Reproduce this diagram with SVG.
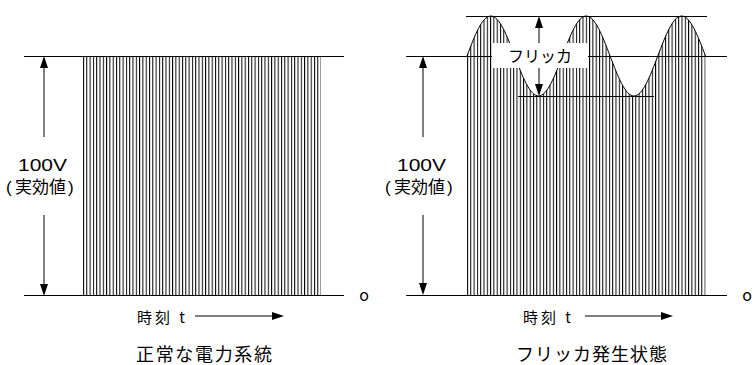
<svg xmlns="http://www.w3.org/2000/svg" width="756" height="365" viewBox="0 0 756 365">
<style>
.ln{stroke:#000;stroke-width:1;fill:none}
.t{font-family:"Noto Sans CJK JP","Noto Sans",sans-serif;fill:#000}
.v{font-family:"Liberation Sans","Noto Sans CJK JP",sans-serif;fill:#000}
.ah{fill:#000}
</style>
<defs>
<pattern id="hatch" patternUnits="userSpaceOnUse" x="83" y="0" width="3.3" height="20">
<rect x="0" y="0" width="1" height="20" fill="#000"/>
</pattern>
<pattern id="hatch2" patternUnits="userSpaceOnUse" x="467" y="0" width="3.3" height="20">
<rect x="0" y="0" width="1" height="20" fill="#000"/>
</pattern>
</defs>
<rect width="756" height="365" fill="#fff"/>

<g id="normal">
<rect x="83" y="56" width="238" height="240" fill="url(#hatch)"/>
<line class="ln" x1="24" y1="56.5" x2="344" y2="56.5"/>
<line class="ln" x1="24" y1="295.5" x2="344" y2="295.5"/>
<line class="ln" x1="44" y1="66" x2="44" y2="137"/>
<line class="ln" x1="44" y1="215" x2="44" y2="286"/>
<polygon class="ah" points="44,56 40,68 48,68"/>
<polygon class="ah" points="44,296 40,284 48,284"/>
<text class="v" x="18" y="171" font-size="17" textLength="49" lengthAdjust="spacingAndGlyphs">100V</text>
<text class="v" y="193" font-size="17"><tspan x="6">(</tspan><tspan x="15">実効値</tspan><tspan x="68">)</tspan></text>
<text class="t" x="364" y="301" font-size="16" text-anchor="middle">o</text>
<text class="t" x="137" y="323" font-size="15" textLength="48" lengthAdjust="spacing">時刻 t</text>
<line class="ln" x1="195" y1="316" x2="274" y2="316"/>
<polygon class="ah" points="284,316 272,312 272,320"/>
<text class="t" x="136" y="361" font-size="18" textLength="136" lengthAdjust="spacing">正常な電力系統</text>
</g>

<g id="flicker">
<path d="M467,56 C474.78,35.5 482.07,16 490.85,16 C499.48,16 506.92,35.5 514.7,56 C522.48,76.5 529.92,96 538.55,96 C547.18,96 554.62,76.5 562.4,56 C570.18,35.5 577.47,16 586.25,16 C594.88,16 602.32,35.5 610.1,56 C617.88,76.5 625.32,96 633.95,96 C642.58,96 650.02,76.5 657.8,56 C665.58,35.5 672.87,16 681.65,16 C690.28,16 697.72,35.5 705.5,56 L705.5,296 L467,296 Z" fill="url(#hatch2)"/>
<path class="ln" d="M467,56 C474.78,35.5 482.07,16 490.85,16 C499.48,16 506.92,35.5 514.7,56 C522.48,76.5 529.92,96 538.55,96 C547.18,96 554.62,76.5 562.4,56 C570.18,35.5 577.47,16 586.25,16 C594.88,16 602.32,35.5 610.1,56 C617.88,76.5 625.32,96 633.95,96 C642.58,96 650.02,76.5 657.8,56 C665.58,35.5 672.87,16 681.65,16 C690.28,16 697.72,35.5 705.5,56"/>
<line class="ln" x1="466" y1="16.5" x2="707" y2="16.5"/>
<line class="ln" x1="406" y1="56.5" x2="727" y2="56.5"/>
<line class="ln" x1="518" y1="96.5" x2="654" y2="96.5"/>
<line class="ln" x1="406" y1="295.5" x2="727" y2="295.5"/>
<line class="ln" x1="423" y1="66" x2="423" y2="137"/>
<line class="ln" x1="423" y1="215" x2="423" y2="285"/>
<polygon class="ah" points="423,56 419,68 427,68"/>
<polygon class="ah" points="423,295 419,283 427,283"/>
<rect x="492" y="43" width="96" height="25" fill="#fff"/>
<line class="ln" x1="539" y1="26" x2="539" y2="43"/>
<line class="ln" x1="539" y1="68" x2="539" y2="86"/>
<polygon class="ah" points="539,16 535,28 543,28"/>
<polygon class="ah" points="539,96 535,84 543,84"/>
<text class="t" x="540" y="62" font-size="16" text-anchor="middle">フリッカ</text>
<text class="v" x="397" y="171" font-size="17" textLength="49" lengthAdjust="spacingAndGlyphs">100V</text>
<text class="v" y="193" font-size="17"><tspan x="385">(</tspan><tspan x="394">実効値</tspan><tspan x="447">)</tspan></text>
<text class="t" x="747" y="301" font-size="16" text-anchor="middle">o</text>
<text class="t" x="523" y="323" font-size="15" textLength="48" lengthAdjust="spacing">時刻 t</text>
<line class="ln" x1="585" y1="316" x2="663" y2="316"/>
<polygon class="ah" points="673,316 661,312 661,320"/>
<text class="t" x="516" y="361" font-size="18" textLength="151" lengthAdjust="spacing">フリッカ発生状態</text>
</g>
</svg>
